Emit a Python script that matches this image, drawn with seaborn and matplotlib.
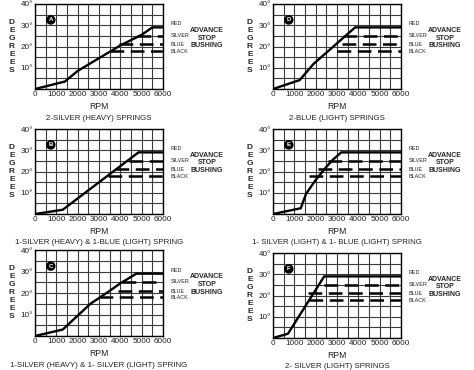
import matplotlib
matplotlib.use("Agg")
import matplotlib.pyplot as plt
import seaborn as sns
import numpy as np

sns.set_style("white")
plt.rcParams['font.family'] = ['Liberation Sans', 'DejaVu Sans']

# ---- data ----
rpm_A = [0, 1400, 2000, 3000, 4000, 5000, 5500, 6000]
deg_A = [0, 3.5, 8.5, 14.5, 20.5, 25.5, 29, 29]
rpm_D = [0, 1250, 1900, 3850, 6000]
deg_D = [0, 4.2, 11.8, 29, 29]
rpm_B = [0, 1300, 4850, 6000]
deg_B = [0, 2, 29, 29]
rpm_E = [0, 1300, 1550, 2000, 2400, 2800, 3200, 6000]
deg_E = [0, 2.7, 9.5, 16, 21, 25.5, 29, 29]
rpm_C = [0, 1300, 2600, 3500, 4000, 4750, 6000]
deg_C = [0, 3, 15, 21, 24.5, 29, 29]
rpm_F = [0, 700, 2400, 6000]
deg_F = [0, 2, 29, 29]

stop_levels = [25, 21, 18]           # silver, blue, black
start_A = [4800, 3950, 3500]
start_D = [3300, 3250, 3000]
start_B = [4400, 3750, 3400]
start_E = [2600, 2100, 1700]
start_C = [4100, 3900, 3000]
start_F = [2400, 1650, 1700]

titles = ["2-SILVER (HEAVY) SPRINGS", "2-BLUE (LIGHT) SPRINGS",
          "1-SILVER (HEAVY) & 1-BLUE (LIGHT) SPRING",
          "1- SILVER (LIGHT) & 1- BLUE (LIGHT) SPRING",
          "1-SILVER (HEAVY) & 1- SILVER (LIGHT) SPRING",
          "2- SILVER (LIGHT) SPRINGS"]
letters = ["A", "D", "B", "E", "C", "F"]
x_labels = ["0", "1000", "2000", "3000", "4000", "5000", "6000"]
y_labels = ["10°", "20°", "30°", "40°"]
stop_names = ["RED", "SILVER", "BLUE", "BLACK"]
stop_text_y = [30.6, 25.2, 20.8, 17.8]

panels = [
    (rpm_A, deg_A, start_A, (35, 4, 163, 89)),
    (rpm_D, deg_D, start_D, (273, 4, 401, 89)),
    (rpm_B, deg_B, start_B, (35, 129, 163, 214)),
    (rpm_E, deg_E, start_E, (273, 129, 401, 214)),
    (rpm_C, deg_C, start_C, (35, 250, 163, 336)),
    (rpm_F, deg_F, start_F, (273, 253, 401, 338)),
]

W, H = 474, 370
fig = plt.figure(figsize=(W / 100, H / 100), dpi=100)

for i, (rx, dy, starts, (l, t, r, b)) in enumerate(panels):
    ax = fig.add_axes([l / W, 1 - b / H, (r - l) / W, (b - t) / H])
    ax.set_xlim(0, 6000)
    ax.set_ylim(0, 40)
    ax.set_xticks(np.arange(0, 6001, 500))
    ax.set_xticklabels([x_labels[k // 2] if k % 2 == 0 else "" for k in range(13)])
    ax.set_yticks(np.arange(0, 41, 5))
    ax.set_yticklabels(["" if (k % 2 == 1 or k == 0) else y_labels[k // 2 - 1] for k in range(9)])
    ax.tick_params(length=0, labelsize=5.9, pad=1.5, labelcolor="#222222")
    ax.grid(True, color="#3a3a3a", lw=0.8)
    for s in ax.spines.values():
        s.set_color("black")
        s.set_linewidth(1.0)

    sns.lineplot(x=rx, y=dy, ax=ax, color="black", lw=1.7, zorder=5)
    for lvl, st in zip(stop_levels, starts):
        sns.lineplot(x=[st, 6000], y=[lvl, lvl], ax=ax, color="black", lw=1.8,
                     linestyle=(0, (5.5, 2.6)), zorder=5)

    for name, yy in zip(stop_names, stop_text_y):
        ax.text(1.06, yy, name, transform=ax.get_yaxis_transform(), fontsize=3.9,
                va="center", ha="left", color="#222222")
    ax.text(1.345, 24, "ADVANCE\nSTOP\nBUSHING", transform=ax.get_yaxis_transform(),
            fontsize=5.0, fontweight="bold", ha="center", va="center", linespacing=1.15)

    ax.text(740, 32.5, letters[i], fontsize=4.4, color="white", fontweight="bold",
            ha="center", va="center",
            bbox=dict(boxstyle="circle,pad=0.25", fc="black", ec="black"))

    ax.text(-0.18, 0.5, "\n".join("DEGREES"), transform=ax.transAxes, fontsize=6.0,
            fontweight="bold", ha="center", va="center", linespacing=1.2)
    ax.set_xlabel("RPM", fontsize=6.2, labelpad=2.5, color="#222222")
    ax.set_ylabel("")
    ax.text(0.5, -0.30, titles[i], transform=ax.transAxes, fontsize=5.7,
            ha="center", va="top", color="#222222")

fig.savefig("out.png", dpi=100)
